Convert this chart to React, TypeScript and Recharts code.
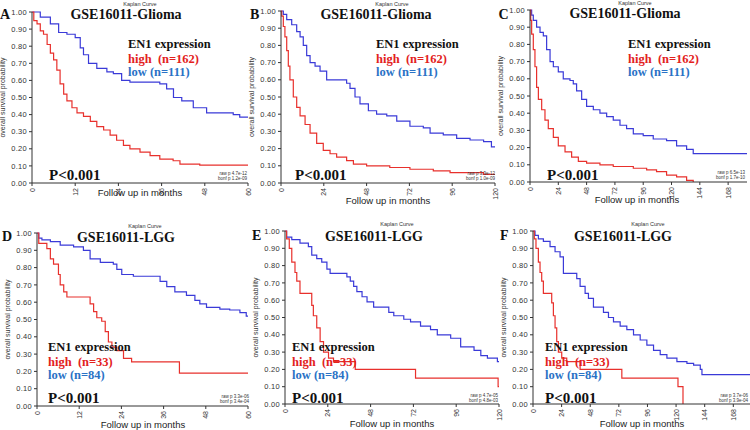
import React from 'react';
import { LineChart, Line, XAxis, YAxis } from 'recharts';

type Pt = [number, number];

// ---- Survival curves (month, survival probability) ----
// A: GSE16011 Glioma, 60-month follow-up
const gliomaHighA: Pt[] = [[0,1],[0.5,0.95],[1.4,0.93],[2.3,0.89],[3.2,0.87],[4.2,0.81],[5.1,0.76],[6.0,0.72],[6.9,0.66],[7.8,0.58],[8.8,0.52],[9.7,0.48],[11.1,0.44],[12.5,0.41],[14.3,0.39],[16.2,0.36],[18.0,0.33],[19.9,0.31],[21.7,0.28],[23.5,0.25],[25.4,0.22],[27.2,0.20],[30.0,0.18],[32.8,0.16],[35.5,0.14],[39.2,0.13],[41.1,0.11],[46.6,0.105],[60,0.105]];
const gliomaLowA: Pt[] = [[0,1],[2.3,0.97],[5.1,0.93],[7.4,0.88],[9.7,0.87],[12,0.85],[13.4,0.79],[14.3,0.75],[15.7,0.70],[18,0.67],[20.8,0.65],[22.6,0.64],[24.9,0.60],[27.2,0.59],[35.5,0.58],[37.4,0.55],[39.3,0.50],[41.6,0.48],[44.8,0.44],[48.5,0.41],[55.9,0.40],[57.7,0.385],[60,0.385]];
// B: GSE16011 Glioma, 120-month follow-up
const gliomaHighB: Pt[] = [[0,1],[0.4,0.97],[1.3,0.91],[2.2,0.85],[3.2,0.77],[4.1,0.68],[5,0.60],[6.9,0.50],[8.8,0.44],[10.7,0.39],[13.5,0.34],[16.3,0.29],[20,0.23],[23.7,0.19],[27.5,0.17],[31.2,0.15],[36.8,0.13],[40.6,0.11],[48,0.10],[61,0.09],[72.3,0.08],[85.4,0.07],[94.8,0.06],[113.5,0.05],[120,0.05]];
const gliomaLowB: Pt[] = [[0,1],[1.3,0.98],[3.2,0.95],[6,0.92],[8.8,0.88],[10.7,0.85],[12.5,0.80],[14.4,0.74],[16.3,0.70],[19.1,0.68],[21.9,0.65],[25.6,0.60],[36.8,0.58],[38.7,0.55],[41.5,0.50],[44.3,0.46],[49,0.42],[53.6,0.40],[59.3,0.39],[64.9,0.36],[72.3,0.33],[79.8,0.32],[83.6,0.29],[91,0.28],[98.5,0.26],[106,0.25],[113.6,0.24],[118,0.21],[120,0.21]];
// C: GSE16011 Glioma, full follow-up
const gliomaHighC: Pt[] = [[0,1],[0.6,0.94],[1.4,0.86],[2.8,0.77],[4.2,0.67],[5.6,0.55],[7.1,0.48],[9.9,0.42],[12.7,0.36],[15.5,0.31],[19.8,0.26],[24,0.21],[29.7,0.175],[35.3,0.145],[41,0.12],[48,0.11],[59.3,0.10],[70.6,0.09],[87.6,0.08],[98.9,0.07],[107.3,0.06],[115.8,0.04],[124.3,0.03],[132.8,0.01],[138.4,0]];
const gliomaLowC: Pt[] = [[0,1],[1.4,0.97],[2.8,0.94],[5.6,0.90],[8.5,0.87],[11.3,0.85],[14.1,0.77],[17,0.70],[19.8,0.67],[24,0.64],[28.2,0.60],[33.9,0.59],[36.7,0.57],[39.5,0.53],[43.8,0.48],[48,0.44],[53.7,0.42],[59.3,0.40],[65,0.38],[70.6,0.36],[76.3,0.33],[81.9,0.31],[87.6,0.28],[96,0.27],[104.5,0.25],[115.8,0.24],[124.3,0.21],[132.8,0.19],[138.4,0.165],[184,0.165]];
// D: GSE16011 LGG, 60-month follow-up
const lggHighD: Pt[] = [[0,1],[0.5,0.94],[2.8,0.91],[3.8,0.85],[4.7,0.82],[6.1,0.76],[6.6,0.70],[7.6,0.66],[8.5,0.63],[15.1,0.59],[16.1,0.545],[17,0.51],[18.4,0.49],[19.4,0.43],[20.3,0.37],[21.3,0.34],[22.7,0.32],[24.6,0.275],[26.9,0.255],[40.5,0.19],[60,0.19]];
const lggLowD: Pt[] = [[0,1],[0.5,0.97],[1.4,0.96],[3.8,0.95],[6.6,0.93],[10.4,0.92],[13.2,0.90],[15.1,0.85],[18,0.83],[21.7,0.82],[22.7,0.79],[24.1,0.76],[27.4,0.75],[35,0.72],[36.9,0.69],[39.2,0.66],[42.5,0.64],[44.9,0.61],[46.3,0.59],[48.2,0.57],[52,0.56],[54.8,0.555],[57.7,0.54],[59.5,0.52],[60,0.52]];
// E: GSE16011 LGG, 120-month follow-up
const lggHighE: Pt[] = [[0,1],[0.9,0.955],[2.4,0.90],[3.8,0.82],[5.6,0.76],[6.6,0.71],[8.4,0.64],[15,0.57],[15.9,0.51],[17.8,0.44],[19.7,0.36],[21.6,0.30],[24.4,0.265],[27.2,0.245],[39.4,0.20],[73.2,0.15],[119.5,0.10],[120,0.10]];
const lggLowE: Pt[] = [[0,1],[0.9,0.965],[3.8,0.95],[8.4,0.93],[13.1,0.91],[15,0.86],[17.8,0.84],[20.6,0.82],[23.5,0.78],[25.3,0.755],[34.7,0.735],[36.6,0.71],[38.5,0.68],[40.3,0.65],[43.2,0.62],[46,0.59],[49.7,0.56],[58.2,0.53],[61,0.51],[66.6,0.49],[70.4,0.475],[76,0.45],[81.6,0.43],[85.4,0.40],[92.9,0.38],[98.5,0.33],[106,0.31],[109.8,0.28],[113.5,0.265],[119.1,0.245],[120,0.245]];
// F: GSE16011 LGG, full follow-up
const lggHighF: Pt[] = [[0,1],[1.1,0.955],[2.5,0.90],[4.5,0.82],[5.9,0.76],[7.3,0.71],[8.7,0.64],[15.7,0.585],[17.1,0.51],[18.5,0.44],[19.9,0.36],[21.3,0.30],[24.1,0.265],[28.3,0.245],[39.5,0.20],[74.5,0.15],[121.6,0.10],[125.8,0]];
const lggLowF: Pt[] = [[0,1],[1.7,0.975],[4.5,0.955],[8.7,0.94],[14.3,0.91],[18.5,0.88],[22.7,0.85],[25.5,0.755],[36.7,0.725],[39.5,0.68],[43.7,0.64],[46.5,0.61],[50.7,0.56],[59.1,0.53],[63.3,0.50],[67.5,0.475],[73.1,0.45],[78.7,0.43],[84.3,0.40],[89.9,0.37],[95.5,0.34],[101.1,0.31],[106.7,0.285],[112.3,0.265],[120.7,0.245],[129.1,0.235],[134.7,0.225],[140.3,0.20],[141.7,0.17],[182,0.17]];

// ---- Axis ticks ----
const ticks60 = [0, 12, 24, 36, 48, 60];
const ticks120 = [0, 24, 48, 72, 96, 120];
const ticksAll = [0, 24, 48, 72, 96, 120, 144, 168];
const yTicks = [0, 0.1, 0.2, 0.3, 0.4, 0.5, 0.6, 0.7, 0.8, 0.9, 1.0];
const xMaxes = [60, 120, 184, 60, 120, 182];

// ---- Text ----
const panelLetters = ['A', 'B', 'C', 'D', 'E', 'F'];
const panelTitles = ['GSE16011-Glioma', 'GSE16011-Glioma', 'GSE16011-Glioma', 'GSE16011-LGG', 'GSE16011-LGG', 'GSE16011-LGG'];
const highLabels = ['high\u00a0 (n=162)', 'high\u00a0 (n=162)', 'high\u00a0 (n=162)', 'high\u00a0 (n=33)', 'high\u00a0 (n=33)', 'high\u00a0 (n=33)'];
const lowLabels = ['low (n=111)', 'low (n=111)', 'low (n=111)', 'low (n=84)', 'low (n=84)', 'low (n=84)'];
const rawP = ['raw p 4.7e-12', 'raw p 3.9e-12', 'raw p 6.5e-13', 'raw p 3.3e-06', 'raw p 4.7e-05', 'raw p 3.7e-06'];
const bonfP = ['bonf p 1.2e-09', 'bonf p 1.0e-09', 'bonf p 1.7e-10', 'bonf p 3.4e-04', 'bonf p 4.8e-03', 'bonf p 3.9e-04'];

// ---- Layout (page pixel positions) ----
const layouts = [
  { box: [32, 248, 12, 183], letter: [0, 19], kaplan: [140, 5.5], title: [126, 18.5], legend: [128, 48], pval: [49, 180], raw: [247, 175], xLab: [140, 196] },
  { box: [281, 495, 11, 183], letter: [250, 19], kaplan: [392, 5.5], title: [376, 18.5], legend: [376, 48], pval: [295, 180], raw: [495, 175], xLab: [388, 204] },
  { box: [530, 747, 10, 182], letter: [498.5, 19], kaplan: [635, 5], title: [625, 18], legend: [628, 48], pval: [547, 180], raw: [745, 174], xLab: [637, 203] },
  { box: [37, 248, 233, 406], letter: [2, 241], kaplan: [145, 228], title: [126, 241.5], legend: [48, 351], pval: [48, 403], raw: [249, 398], xLab: [143, 428] },
  { box: [285, 499, 231, 404], letter: [252, 240], kaplan: [397, 226], title: [374, 240.5], legend: [292, 351], pval: [292, 403], raw: [498, 397], xLab: [392, 427] },
  { box: [533, 750, 231, 404], letter: [500, 240], kaplan: [648, 226], title: [623, 240.5], legend: [545, 351], pval: [545, 403], raw: [748, 397], xLab: [642, 427] },
];

const series: Pt[][][] = [
  [gliomaHighA, gliomaLowA],
  [gliomaHighB, gliomaLowB],
  [gliomaHighC, gliomaLowC],
  [lggHighD, lggLowD],
  [lggHighE, lggLowE],
  [lggHighF, lggLowF],
];
const xTickSets = [ticks60, ticks120, ticksAll, ticks60, ticks120, ticksAll];

const RED = '#e8302c';
const BLUE = '#3a3ad8';
const SANS = '"Liberation Sans", Arial, sans-serif';
const SERIF = '"Liberation Serif", "Times New Roman", serif';

const XTick = (props: any) => {
  const { x, y, payload } = props;
  return (
    <text x={x} y={y + 2} transform={`rotate(-90 ${x} ${y + 2})`} textAnchor="end" dominantBaseline="central"
      fontSize={7} fontFamily={SANS} fill="#333">{payload.value}</text>
  );
};

const toObj = (a: Pt[]) => a.map(([m, s]) => ({ m, s }));

function KMPanel({ idx }: { idx: number }) {
  const L = layouts[idx];
  const [x0, x1, y0, y1] = L.box;
  const YW = 40, XH = 40, MT = 10, MR = 4;
  const width = x1 - x0 + YW + MR;
  const height = y1 - y0 + MT + XH;
  const [high, low] = series[idx];
  return (
    <div style={{ position: 'absolute', left: x0 - YW, top: y0 - MT }}>
      <LineChart width={width} height={height} margin={{ top: MT, right: MR, left: 0, bottom: 0 }}>
        <XAxis dataKey="m" type="number" domain={[0, xMaxes[idx]]} ticks={xTickSets[idx]} allowDataOverflow interval={0}
          height={XH} stroke="#333" tickSize={3} tickMargin={0} tick={(p: any) => <XTick {...p} />} />
        <YAxis type="number" domain={[0, 1]} ticks={yTicks} width={YW} stroke="#333" tickSize={3} tickMargin={2}
          interval={0} tickFormatter={(v: number) => v.toFixed(2)}
          tick={{ fontSize: 7.5, fontFamily: SANS, fill: '#333', letterSpacing: 0.3 }}
          label={{ value: 'overall survival probability', angle: -90, position: 'insideLeft', offset: 11,
            style: { textAnchor: 'middle', fontSize: 7, fontFamily: SANS, fill: '#333' } }} />
        <Line data={toObj(low)} dataKey="s" type="stepAfter" stroke={BLUE} strokeWidth={1.2} dot={false} isAnimationActive={false} />
        <Line data={toObj(high)} dataKey="s" type="stepAfter" stroke={RED} strokeWidth={1.2} dot={false} isAnimationActive={false} />
      </LineChart>
    </div>
  );
}

function Annotations() {
  return (
    <svg width={750} height={430} style={{ position: 'absolute', left: 0, top: 0, pointerEvents: 'none' }}>
      {layouts.map((L, i) => (
        <g key={i}>
          <text x={L.letter[0]} y={L.letter[1]} fontFamily={SERIF} fontWeight="bold" fontSize={14} fill="#111">{panelLetters[i]}</text>
          <text x={L.kaplan[0]} y={L.kaplan[1]} textAnchor="middle" fontFamily={SANS} fontSize={5.5} fill="#333">Kaplan Curve</text>
          <text x={L.title[0]} y={L.title[1]} textAnchor="middle" fontFamily={SERIF} fontWeight="bold" fontSize={14} fill="#111">{panelTitles[i]}</text>
          <text x={L.legend[0]} y={L.legend[1]} fontFamily={SERIF} fontWeight="bold" fontSize={12.5} fill="#111">EN1 expression</text>
          <text x={L.legend[0]} y={L.legend[1] + 14.5} fontFamily={SERIF} fontWeight="bold" fontSize={12.5} fill="#e3211c">{highLabels[i]}</text>
          <text x={L.legend[0]} y={L.legend[1] + 28} fontFamily={SERIF} fontWeight="bold" fontSize={12.5} fill="#2a72c6">{lowLabels[i]}</text>
          <text x={L.pval[0]} y={L.pval[1]} fontFamily={SERIF} fontWeight="bold" fontSize={15} fill="#111">P&lt;0.001</text>
          <text x={L.raw[0]} y={L.raw[1]} textAnchor="end" fontFamily={SANS} fontSize={4.5} fill="#333">{rawP[i]}</text>
          <text x={L.raw[0]} y={L.raw[1] + 5} textAnchor="end" fontFamily={SANS} fontSize={4.5} fill="#333">{bonfP[i]}</text>
          <text x={L.xLab[0]} y={L.xLab[1]} textAnchor="middle" fontFamily={SANS} fontSize={9.5} fill="#222">Follow up in months</text>
        </g>
      ))}
    </svg>
  );
}

export default function App() {
  return (
    <div style={{ position: 'absolute', left: 0, top: 0, width: 750, height: 430, overflow: 'hidden', background: '#fff' }}>
      {layouts.map((_, i) => <KMPanel key={i} idx={i} />)}
      <Annotations />
    </div>
  );
}
